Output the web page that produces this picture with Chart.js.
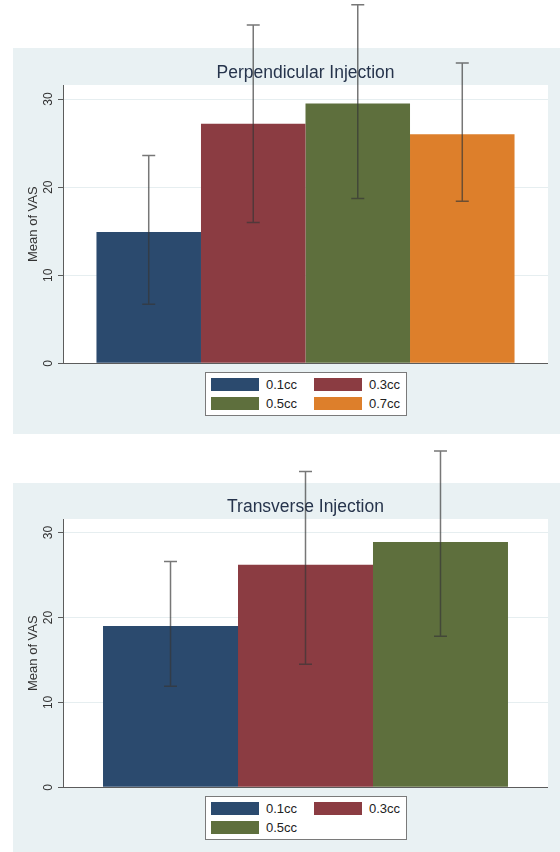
<!DOCTYPE html>
<html>
<head>
<meta charset="utf-8">
<script src="https://cdn.jsdelivr.net/npm/chart.js@4.4.1/dist/chart.umd.min.js"></script>
<style>
  html, body { margin: 0; padding: 0; background: #fff; }
  body { position: relative; width: 560px; height: 852px; overflow: hidden;
         font-family: "Liberation Sans", Arial, sans-serif; }
  .panel { position: absolute; background: #e9f1f3; }
  .wrap { position: absolute; left: 0; width: 560px; }
  .legend { position: absolute; box-sizing: border-box; width: 202px;
            background: #fff; border: 1px solid #7a7a7a; padding: 5px 6px 5px 5px;
            display: grid; grid-template-columns: 48px 55px 48px 40px; row-gap: 6px; }
  .sw { height: 13px; }
  .lt { font-size: 13px; color: #222; line-height: 13px; padding-left: 7px; white-space: nowrap; }
</style>
</head>
<body>
<div class="panel" style="left:12.5px; top:47.5px; width:547.5px; height:386px"></div>
<div class="panel" style="left:12.5px; top:483px; width:547.5px; height:369px"></div>
<div class="wrap" style="top:0; height:440px"><canvas id="c1"></canvas></div>
<div class="wrap" style="top:440px; height:412px"><canvas id="c2"></canvas></div>
<div class="legend" id="leg1" style="left:205px; top:372px"></div>
<div class="legend" id="leg2" style="left:205px; top:796px"></div>

<script>
/* ═══════════════════════════════════════════
   DATA
═══════════════════════════════════════════ */
const doseColors = ['#2b4a6e', '#8b3c42', '#5e6f3d', '#dd7f2b'];
const yTicks = [0, 10, 20, 30];

const perpTitle = 'Perpendicular Injection';
const perpDoses = ['0.1cc', '0.3cc', '0.5cc', '0.7cc'];
const perpMean  = [14.9, 27.2, 29.5, 26.0];
const perpLow   = [6.7, 16.0, 18.7, 18.4];
const perpHigh  = [23.6, 38.4, 40.7, 34.1];

const transTitle = 'Transverse Injection';
const transDoses = ['0.1cc', '0.3cc', '0.5cc'];
const transMean  = [19.0, 26.2, 28.9];
const transLow   = [11.9, 14.5, 17.8];
const transHigh  = [26.6, 37.2, 39.6];

/* ═══════════════════════════════════════════
   PLUGINS
═══════════════════════════════════════════ */
// white plot region (panel bg is the div behind the canvas)
const plotBg = {
  id: 'plotBg',
  beforeDraw(chart) {
    const { ctx, chartArea: a } = chart;
    ctx.save();
    ctx.fillStyle = '#ffffff';
    ctx.fillRect(a.left, a.top, a.right - a.left, a.bottom - a.top);
    ctx.restore();
  }
};

// CI caps, drawn unclipped so they run above the panel like the original
const errorBars = {
  id: 'errorBars',
  afterDatasetsDraw(chart) {
    const { ctx } = chart;
    const y = chart.scales.y;
    ctx.save();
    ctx.strokeStyle = 'rgba(55,55,55,0.68)';
    ctx.lineWidth = 1.5;
    chart.data.datasets.forEach((ds, i) => {
      const bar = chart.getDatasetMeta(i).data[0];
      const yLo = y.getPixelForValue(ds.low);
      const yHi = y.getPixelForValue(ds.high);
      const x = bar.x, w = 6.5;
      ctx.beginPath();
      ctx.moveTo(x, yLo); ctx.lineTo(x, yHi);
      ctx.moveTo(x - w, yLo); ctx.lineTo(x + w, yLo);
      ctx.moveTo(x - w, yHi); ctx.lineTo(x + w, yHi);
      ctx.stroke();
    });
    ctx.restore();
  }
};

/* ═══════════════════════════════════════════
   CHART
═══════════════════════════════════════════ */
function makeChart(id, title, doses, means, lows, highs, catPct, lay) {
  return new Chart(document.getElementById(id), {
    type: 'bar',
    data: {
      labels: [''],
      datasets: doses.map((d, i) => ({
        label: d,
        data: [means[i]],
        low: lows[i],
        high: highs[i],
        backgroundColor: doseColors[i],
        borderWidth: 0,
        categoryPercentage: catPct,
        barPercentage: 1
      }))
    },
    options: {
      responsive: true,
      maintainAspectRatio: false,
      animation: false,
      events: [],
      layout: { padding: { left: 0, right: 12, top: 0, bottom: lay.bottom } },
      plugins: {
        legend: { display: false },
        tooltip: { enabled: false },
        title: {
          display: true,
          text: title,
          fullSize: false,
          color: '#26344c',
          font: { family: 'Liberation Sans', size: 17.5, weight: 'normal' },
          padding: { top: lay.titleTop, bottom: lay.titleBottom }
        }
      },
      scales: {
        x: { display: false },
        y: {
          min: 0,
          max: 31.6,
          afterBuildTicks: s => { s.ticks = yTicks.map(v => ({ value: v })); },
          afterFit: s => { s.width = 63; },
          border: { display: true, color: '#5c5c5c', width: 1 },
          grid: {
            color: c => (c.tick && c.tick.value === 0) ? '#5c5c5c' : '#e6eef0',
            tickColor: '#5c5c5c',
            tickLength: 5,
            lineWidth: 1
          },
          ticks: {
            minRotation: 90,
            maxRotation: 90,
            crossAlign: 'center',
            padding: 3,
            color: '#333',
            font: { family: 'Liberation Sans', size: 12 }
          },
          title: {
            display: true,
            text: 'Mean of VAS',
            color: '#333',
            font: { family: 'Liberation Sans', size: 13 },
            padding: { top: 25.2, bottom: 0 }
          }
        }
      }
    },
    plugins: [plotBg, errorBars]
  });
}

makeChart('c1', perpTitle, perpDoses, perpMean, perpLow, perpHigh, 0.862,
  { bottom: 76.7, titleTop: 62.5, titleBottom: 1.5 });
makeChart('c2', transTitle, transDoses, transMean, transLow, transHigh, 0.835,
  { bottom: 64.7, titleTop: 56.5, titleBottom: 1.5 });

/* ═══════════════════════════════════════════
   LEGENDS
═══════════════════════════════════════════ */
function buildLegend(id, doses) {
  const el = document.getElementById(id);
  doses.forEach((d, i) => {
    const sw = document.createElement('div');
    sw.className = 'sw';
    sw.style.background = doseColors[i];
    const t = document.createElement('div');
    t.className = 'lt';
    t.textContent = d;
    el.appendChild(sw);
    el.appendChild(t);
  });
}
buildLegend('leg1', perpDoses);
buildLegend('leg2', transDoses);
</script>
</body>
</html>
